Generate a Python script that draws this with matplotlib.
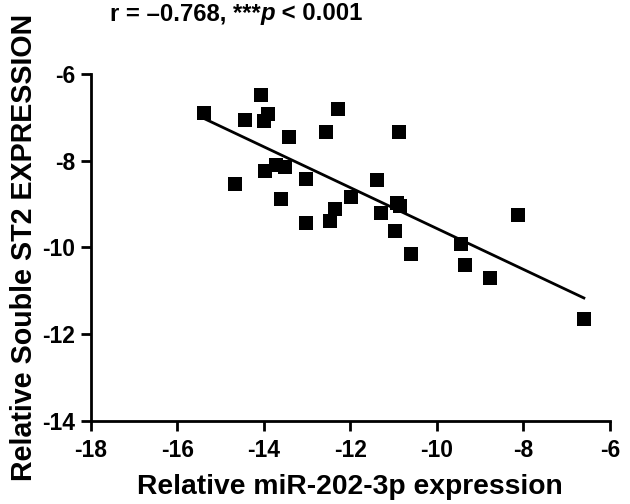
import numpy as np
import matplotlib
matplotlib.use("Agg")
import matplotlib.pyplot as plt

# relative expression values
mir202 = [-15.38, -14.07, -14.44, -13.90, -13.99, -12.29, -13.42, -12.56, -10.87,
          -13.72, -13.51, -13.97, -14.67, -13.02, -13.59, -11.39, -11.98, -12.35,
          -12.47, -13.03, -11.29, -10.96, -10.92, -10.85, -10.60, -9.44, -9.34,
          -8.76, -8.12, -6.60]
st2 = [-6.91, -6.49, -7.06, -6.93, -7.10, -6.82, -7.47, -7.35, -7.35,
       -8.11, -8.16, -8.23, -8.54, -8.42, -8.88, -8.44, -8.85, -9.12,
       -9.39, -9.44, -9.21, -9.62, -8.98, -9.05, -10.15, -9.92, -10.40,
       -10.71, -9.25, -11.64]

xticks = [-18, -16, -14, -12, -10, -8, -6]
yticks = [-14, -12, -10, -8, -6]

plt.rcParams['font.family'] = ['Liberation Sans', 'DejaVu Sans']
plt.rcParams['font.weight'] = 'bold'
plt.rcParams['axes.unicode_minus'] = False

fig = plt.figure(figsize=(6.3, 5.04), dpi=100)
ax = fig.add_axes([0.144, 0.164, 0.824, 0.69])

x = np.array(mir202)
y = np.array(st2)
ax.scatter(x, y, marker='s', s=105, color='black', linewidths=0, zorder=3)

# linear regression line over the data range
slope, icpt = np.polyfit(x, y, 1)
xl = np.array([x.min(), x.max()])
ax.plot(xl, slope * xl + icpt, color='black', lw=2)

ax.set_xlim(-18, -6)
ax.set_ylim(-14, -6)
ax.set_xticks(xticks)
ax.set_yticks(yticks)
ax.spines['top'].set_visible(False)
ax.spines['right'].set_visible(False)
for s in ['left', 'bottom']:
    ax.spines[s].set_linewidth(2)
ax.tick_params(width=2, length=7, labelsize=16.5, pad=4)
ax.tick_params(axis='x', pad=6)
for lab in ax.get_xticklabels() + ax.get_yticklabels():
    lab.set_fontweight('bold')

ax.set_xlabel("Relative miR-202-3p expression", fontsize=20.3, fontweight='bold', labelpad=8)
ax.set_ylabel("Relative Souble ST2 EXPRESSION", fontsize=20.6, fontweight='bold', labelpad=3)

t1 = fig.text(110 / 630, 1 - 20 / 504, "r = \u20130.768, ***", fontsize=17.2,
              fontweight='bold', va='baseline', ha='left')
t2 = ax.annotate("p", xy=(1, 0), xycoords=t1, va='bottom', ha='left',
                 fontsize=17.2, fontweight='bold', fontstyle='italic')
ax.annotate(" < 0.001", xy=(1, 0), xycoords=t2, va='bottom', ha='left',
            fontsize=17.2, fontweight='bold')

fig.savefig("out.png", dpi=100)
